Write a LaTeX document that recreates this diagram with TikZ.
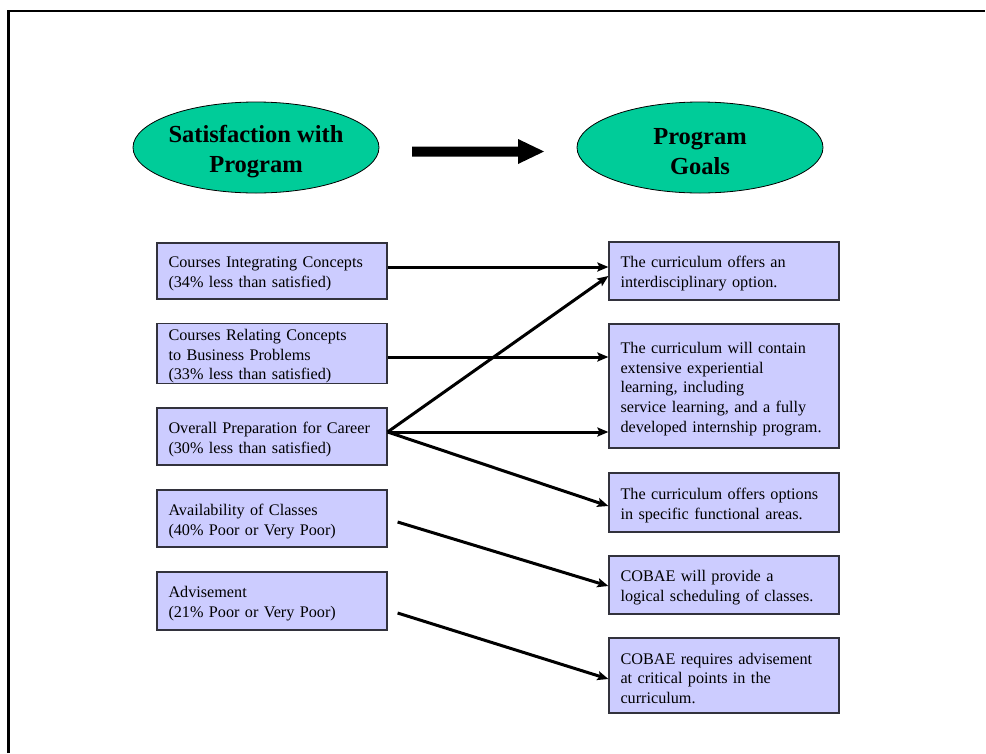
\documentclass[tikz,border=0pt]{standalone}
\usepackage{fontspec}
\setmainfont{Liberation Serif}
\usetikzlibrary{arrows.meta,shapes.geometric}

\definecolor{ovalgreen}{RGB}{0,204,153}
\definecolor{boxblue}{RGB}{204,204,255}
\definecolor{boxedge}{RGB}{50,50,60}

\tikzset{
  oval/.style={ellipse, draw=black, line width=0.8pt, fill=ovalgreen,
    minimum width=246pt, minimum height=91pt, inner sep=0pt},
  ovaltext/.style={inner sep=0pt, align=center,
    font=\fontsize{24.5}{30}\selectfont\bfseries},
  itembox/.style={rectangle, draw=boxedge, line width=1.2pt, fill=boxblue,
    minimum width=230pt, text width=207pt, inner xsep=11.5pt, inner ysep=0pt,
    align=left, font=\fontsize{16.2}{19.7}\selectfont, text height=17pt},
  link/.style={line width=3pt, -{Stealth[length=11pt,width=9pt,inset=2pt]}},
  frameline/.style={line width=2.5pt}
}

\begin{document}
\begin{tikzpicture}[x=1pt,y=-1pt]
\useasboundingbox (0,0) rectangle (986,753);

% page frame (top and left edges)
\draw[frameline] (8.7,753) -- (8.7,11) -- (985,11);

% headings
\node[oval] (sat) at (256,147.5) {};
\node[ovaltext] (sattext) at ([yshift=-4pt]sat.center) {Satisfaction with\\Program};
\node[oval] (goals) at (700,147.5) {};
\node[ovaltext] (goalstext) at ([yshift=-4pt]goals.center) {Program\\Goals};

% block arrow between the headings
\coordinate (ba) at (412,151.5);
\coordinate (bb) at (544,151.5);
\fill (ba) ++(0,-5) -- ++(106,0) -- ++(0,-7.5) -- (bb) -- ++(-26,12.5)
  -- ++(0,-7.5) -- ++(-106,0) -- cycle;

% satisfaction items
\node[itembox, minimum height=56pt] (s1) at (272,271)
  {Courses Integrating Concepts\\(34\% less than satisfied)};
\node[itembox, minimum height=59pt] (s2) at (272,353.5)
  {Courses Relating Concepts\\to Business Problems\\(33\% less than satisfied)};
\node[itembox, minimum height=57pt] (s3) at (272,436.5)
  {Overall Preparation for Career\\(30\% less than satisfied)};
\node[itembox, minimum height=57pt] (s4) at (272,518.5)
  {Availability of Classes\\(40\% Poor or Very Poor)};
\node[itembox, minimum height=58pt] (s5) at (272,601)
  {Advisement\\(21\% Poor or Very Poor)};

% program goals
\node[itembox, minimum height=58pt] (g1) at (724,271)
  {The curriculum offers an\\interdisciplinary option.};
\node[itembox, minimum height=124pt] (g2) at (724,386)
  {The curriculum will contain\\extensive experiential\\learning, including\\service learning, and a fully\\developed internship program.};
\node[itembox, minimum height=59pt] (g3) at (724,502.5)
  {The curriculum offers options\\in specific functional areas.};
\node[itembox, minimum height=58pt] (g4) at (724,585)
  {COBAE will provide a\\logical scheduling of classes.};
\node[itembox, minimum height=75pt] (g5) at (724,675.5)
  {COBAE requires advisement\\at critical points in the\\curriculum.};

% links
\draw[link] ([yshift=4pt]s1.east) -- ([yshift=4pt]g1.west);
\draw[link] ([yshift=-3.5pt]s2.east) -- ([yshift=29pt]g2.west);
\draw[link] ([yshift=4.5pt]s3.east) -- ([yshift=-5pt]g1.west);
\draw[link] ([yshift=4.5pt]s3.east) -- ([yshift=-46pt]g2.west);
\draw[link] ([yshift=4.5pt]s3.east) -- ([yshift=-3.5pt]g3.west);
\draw[link] ([xshift=10pt,yshift=-3.5pt]s4.east) -- ([yshift=-1pt]g4.west);
\draw[link] ([xshift=10pt,yshift=-12pt]s5.east) -- ([yshift=-3.5pt]g5.west);
\end{tikzpicture}
\end{document}
